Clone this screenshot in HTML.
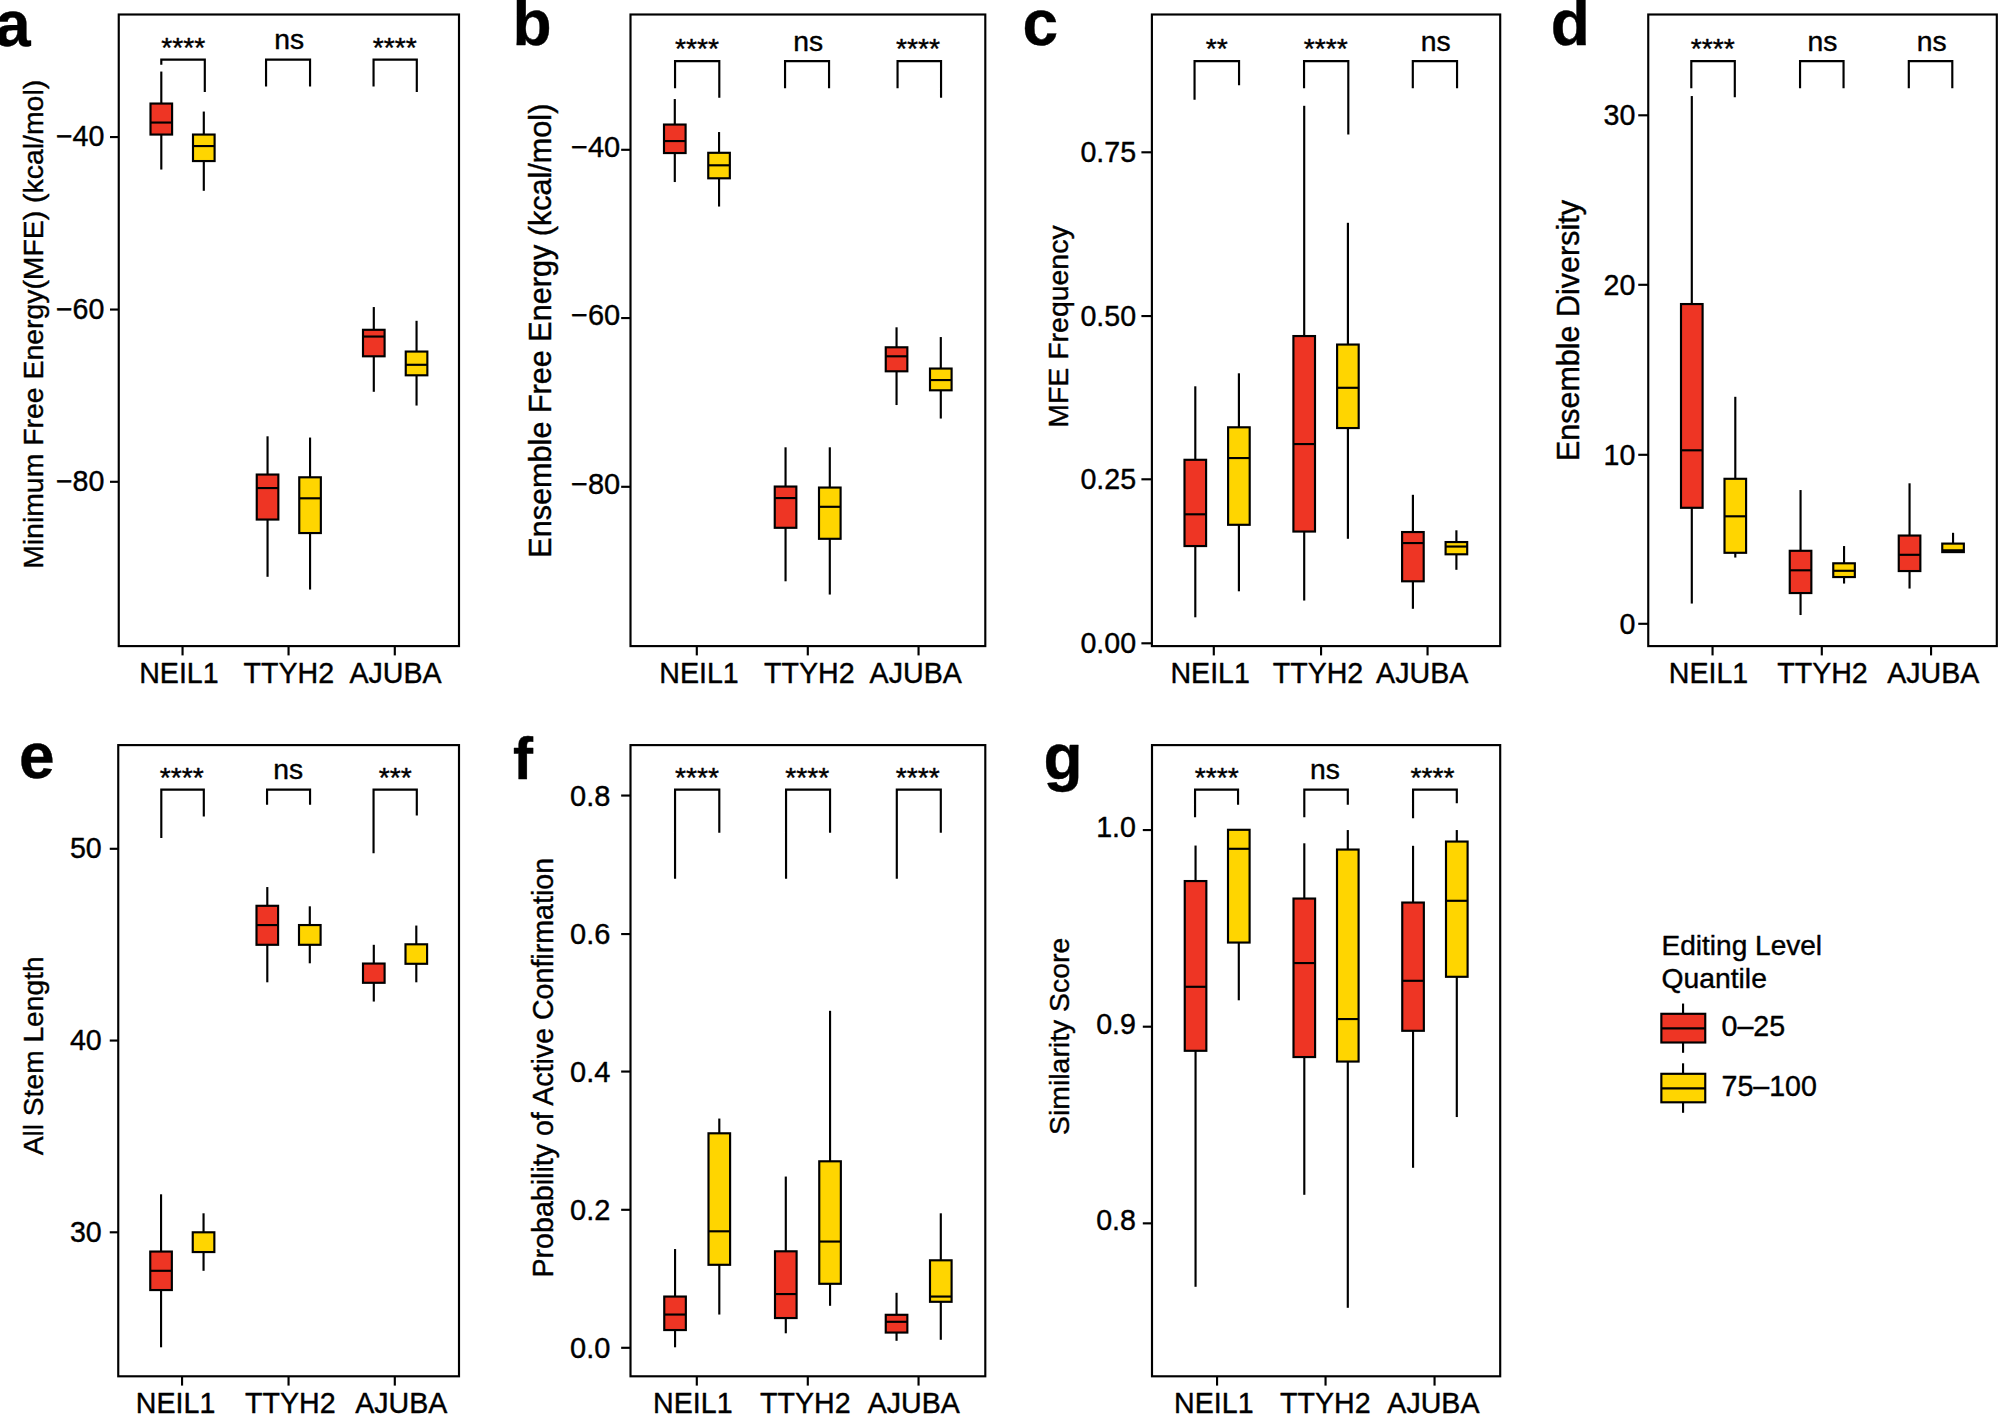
<!DOCTYPE html>
<html lang="en">
<head>
<meta charset="utf-8">
<title>RNA structure features by editing level quantile</title>
<style>
html,body{margin:0;padding:0;background:#fff;}
body{width:1998px;height:1414px;overflow:hidden;}
svg{display:block;}
svg text{font-family:"Liberation Sans", sans-serif;fill:#000;stroke:#000;stroke-width:0.4px;stroke-linejoin:round;}
</style>
</head>
<body>
<svg role="img" aria-label="Box plots of RNA structure features for NEIL1, TTYH2 and AJUBA by editing level quantile" width="1998" height="1414" viewBox="0 0 1998 1414">
<rect x="0" y="0" width="1998" height="1414" fill="#fff"/>
<g id="panel-a">
<rect x="118.75" y="14.5" width="340.25" height="631.6" fill="none" stroke="#000" stroke-width="2.15"/>
<text x="-5" y="45.5" font-size="64" font-weight="bold" stroke="none">a</text>
<text x="43" y="324.35" font-size="28.4" text-anchor="middle" transform="rotate(-90 43 324.35)">Minimum Free Energy(MFE) (kcal/mol)</text>
<line x1="110" y1="137.05" x2="118.75" y2="137.05" stroke="#000" stroke-width="2.15"/>
<text x="104.4" y="146.25" font-size="28.6" text-anchor="end">−40</text>
<line x1="110" y1="309.55" x2="118.75" y2="309.55" stroke="#000" stroke-width="2.15"/>
<text x="104.4" y="318.75" font-size="28.6" text-anchor="end">−60</text>
<line x1="110" y1="481.8" x2="118.75" y2="481.8" stroke="#000" stroke-width="2.15"/>
<text x="104.4" y="491" font-size="28.6" text-anchor="end">−80</text>
<line x1="182.55" y1="646.1" x2="182.55" y2="655.4" stroke="#000" stroke-width="2.15"/>
<line x1="288.55" y1="646.1" x2="288.55" y2="655.4" stroke="#000" stroke-width="2.15"/>
<line x1="394.8" y1="646.1" x2="394.8" y2="655.4" stroke="#000" stroke-width="2.15"/>
<text x="178.9" y="682.8" font-size="28.6" text-anchor="middle">NEIL1</text>
<text x="288.9" y="682.8" font-size="28.6" text-anchor="middle">TTYH2</text>
<text x="395.6" y="682.8" font-size="28.6" text-anchor="middle">AJUBA</text>
<line x1="161.3" y1="71.55" x2="161.3" y2="103.55" stroke="#000" stroke-width="2.15"/>
<line x1="161.3" y1="134.55" x2="161.3" y2="169.55" stroke="#000" stroke-width="2.15"/>
<rect x="150.5" y="103.55" width="21.6" height="31" fill="#ee3524" stroke="#000" stroke-width="2.15"/>
<line x1="150.5" y1="122.55" x2="172.1" y2="122.55" stroke="#000" stroke-width="2.15"/>
<line x1="203.8" y1="111.55" x2="203.8" y2="134.55" stroke="#000" stroke-width="2.15"/>
<line x1="203.8" y1="161.05" x2="203.8" y2="190.8" stroke="#000" stroke-width="2.15"/>
<rect x="193" y="134.55" width="21.6" height="26.5" fill="#ffd500" stroke="#000" stroke-width="2.15"/>
<line x1="193" y1="146.05" x2="214.6" y2="146.05" stroke="#000" stroke-width="2.15"/>
<line x1="267.55" y1="436.3" x2="267.55" y2="474.55" stroke="#000" stroke-width="2.15"/>
<line x1="267.55" y1="519.55" x2="267.55" y2="576.8" stroke="#000" stroke-width="2.15"/>
<rect x="256.75" y="474.55" width="21.6" height="45" fill="#ee3524" stroke="#000" stroke-width="2.15"/>
<line x1="256.75" y1="488.05" x2="278.35" y2="488.05" stroke="#000" stroke-width="2.15"/>
<line x1="310.05" y1="437.55" x2="310.05" y2="477.3" stroke="#000" stroke-width="2.15"/>
<line x1="310.05" y1="533.05" x2="310.05" y2="589.55" stroke="#000" stroke-width="2.15"/>
<rect x="299.25" y="477.3" width="21.6" height="55.75" fill="#ffd500" stroke="#000" stroke-width="2.15"/>
<line x1="299.25" y1="498.3" x2="320.85" y2="498.3" stroke="#000" stroke-width="2.15"/>
<line x1="373.8" y1="307.05" x2="373.8" y2="329.8" stroke="#000" stroke-width="2.15"/>
<line x1="373.8" y1="356.3" x2="373.8" y2="391.8" stroke="#000" stroke-width="2.15"/>
<rect x="363" y="329.8" width="21.6" height="26.5" fill="#ee3524" stroke="#000" stroke-width="2.15"/>
<line x1="363" y1="336.55" x2="384.6" y2="336.55" stroke="#000" stroke-width="2.15"/>
<line x1="416.55" y1="320.8" x2="416.55" y2="351.55" stroke="#000" stroke-width="2.15"/>
<line x1="416.55" y1="375.3" x2="416.55" y2="405.55" stroke="#000" stroke-width="2.15"/>
<rect x="405.75" y="351.55" width="21.6" height="23.75" fill="#ffd500" stroke="#000" stroke-width="2.15"/>
<line x1="405.75" y1="364.8" x2="427.35" y2="364.8" stroke="#000" stroke-width="2.15"/>
<polyline points="161.3,64.8 161.3,59.55 204.8,59.55 204.8,92.05" fill="none" stroke="#000" stroke-width="2.15" stroke-linejoin="miter"/>
<text x="183.25" y="56.55" font-size="28.3" text-anchor="middle">****</text>
<polyline points="266.05,86.55 266.05,59.55 310.05,59.55 310.05,86.55" fill="none" stroke="#000" stroke-width="2.15" stroke-linejoin="miter"/>
<text x="289.25" y="49.25" font-size="28.3" text-anchor="middle">ns</text>
<polyline points="373.55,86.55 373.55,59.55 416.8,59.55 416.8,92.05" fill="none" stroke="#000" stroke-width="2.15" stroke-linejoin="miter"/>
<text x="394.75" y="56.55" font-size="28.3" text-anchor="middle">****</text>
</g>
<g id="panel-b">
<rect x="630.5" y="14.5" width="354.8" height="631.6" fill="none" stroke="#000" stroke-width="2.15"/>
<text x="512.5" y="44.5" font-size="64" font-weight="bold" stroke="none">b</text>
<text x="551" y="330.65" font-size="30.6" text-anchor="middle" transform="rotate(-90 551 330.65)">Ensemble Free Energy (kcal/mol)</text>
<line x1="621.15" y1="149.8" x2="630.5" y2="149.8" stroke="#000" stroke-width="2.15"/>
<text x="620.2" y="156.5" font-size="29" text-anchor="end">−40</text>
<line x1="621.15" y1="318.05" x2="630.5" y2="318.05" stroke="#000" stroke-width="2.15"/>
<text x="620.2" y="324.75" font-size="29" text-anchor="end">−60</text>
<line x1="621.15" y1="486.8" x2="630.5" y2="486.8" stroke="#000" stroke-width="2.15"/>
<text x="620.2" y="493.5" font-size="29" text-anchor="end">−80</text>
<line x1="696.8" y1="646.1" x2="696.8" y2="655.4" stroke="#000" stroke-width="2.15"/>
<line x1="807.8" y1="646.1" x2="807.8" y2="655.4" stroke="#000" stroke-width="2.15"/>
<line x1="918.55" y1="646.1" x2="918.55" y2="655.4" stroke="#000" stroke-width="2.15"/>
<text x="699" y="682.8" font-size="28.6" text-anchor="middle">NEIL1</text>
<text x="809.4" y="682.8" font-size="28.6" text-anchor="middle">TTYH2</text>
<text x="915.7" y="682.8" font-size="28.6" text-anchor="middle">AJUBA</text>
<line x1="674.8" y1="99.05" x2="674.8" y2="124.55" stroke="#000" stroke-width="2.15"/>
<line x1="674.8" y1="153.05" x2="674.8" y2="182.05" stroke="#000" stroke-width="2.15"/>
<rect x="664" y="124.55" width="21.6" height="28.5" fill="#ee3524" stroke="#000" stroke-width="2.15"/>
<line x1="664" y1="141.05" x2="685.6" y2="141.05" stroke="#000" stroke-width="2.15"/>
<line x1="719.05" y1="132.05" x2="719.05" y2="152.8" stroke="#000" stroke-width="2.15"/>
<line x1="719.05" y1="178.3" x2="719.05" y2="206.55" stroke="#000" stroke-width="2.15"/>
<rect x="708.25" y="152.8" width="21.6" height="25.5" fill="#ffd500" stroke="#000" stroke-width="2.15"/>
<line x1="708.25" y1="165.3" x2="729.85" y2="165.3" stroke="#000" stroke-width="2.15"/>
<line x1="785.55" y1="447.3" x2="785.55" y2="486.55" stroke="#000" stroke-width="2.15"/>
<line x1="785.55" y1="527.8" x2="785.55" y2="581.3" stroke="#000" stroke-width="2.15"/>
<rect x="774.75" y="486.55" width="21.6" height="41.25" fill="#ee3524" stroke="#000" stroke-width="2.15"/>
<line x1="774.75" y1="498.05" x2="796.35" y2="498.05" stroke="#000" stroke-width="2.15"/>
<line x1="829.8" y1="447.3" x2="829.8" y2="487.55" stroke="#000" stroke-width="2.15"/>
<line x1="829.8" y1="538.8" x2="829.8" y2="594.55" stroke="#000" stroke-width="2.15"/>
<rect x="819" y="487.55" width="21.6" height="51.25" fill="#ffd500" stroke="#000" stroke-width="2.15"/>
<line x1="819" y1="506.8" x2="840.6" y2="506.8" stroke="#000" stroke-width="2.15"/>
<line x1="896.55" y1="327.3" x2="896.55" y2="347.3" stroke="#000" stroke-width="2.15"/>
<line x1="896.55" y1="371.3" x2="896.55" y2="405.05" stroke="#000" stroke-width="2.15"/>
<rect x="885.75" y="347.3" width="21.6" height="24" fill="#ee3524" stroke="#000" stroke-width="2.15"/>
<line x1="885.75" y1="356.3" x2="907.35" y2="356.3" stroke="#000" stroke-width="2.15"/>
<line x1="940.8" y1="337.05" x2="940.8" y2="368.55" stroke="#000" stroke-width="2.15"/>
<line x1="940.8" y1="390.3" x2="940.8" y2="418.55" stroke="#000" stroke-width="2.15"/>
<rect x="930" y="368.55" width="21.6" height="21.75" fill="#ffd500" stroke="#000" stroke-width="2.15"/>
<line x1="930" y1="380.05" x2="951.6" y2="380.05" stroke="#000" stroke-width="2.15"/>
<polyline points="675.05,88.3 675.05,61.05 719.3,61.05 719.3,97.8" fill="none" stroke="#000" stroke-width="2.15" stroke-linejoin="miter"/>
<text x="697" y="58.05" font-size="28.3" text-anchor="middle">****</text>
<polyline points="785.05,88.3 785.05,61.05 829.05,61.05 829.05,88.3" fill="none" stroke="#000" stroke-width="2.15" stroke-linejoin="miter"/>
<text x="808.25" y="50.75" font-size="28.3" text-anchor="middle">ns</text>
<polyline points="897.55,88.3 897.55,61.05 941.05,61.05 941.05,97.8" fill="none" stroke="#000" stroke-width="2.15" stroke-linejoin="miter"/>
<text x="918" y="58.05" font-size="28.3" text-anchor="middle">****</text>
</g>
<g id="panel-c">
<rect x="1151.9" y="14.5" width="348.3" height="631.6" fill="none" stroke="#000" stroke-width="2.15"/>
<text x="1022.5" y="44.5" font-size="64" font-weight="bold" stroke="none">c</text>
<text x="1068.4" y="326.55" font-size="28.46" text-anchor="middle" transform="rotate(-90 1068.4 326.55)">MFE Frequency</text>
<line x1="1141.4" y1="152.3" x2="1151.9" y2="152.3" stroke="#000" stroke-width="2.15"/>
<text x="1136.1" y="162" font-size="28.6" text-anchor="end">0.75</text>
<line x1="1141.4" y1="316.05" x2="1151.9" y2="316.05" stroke="#000" stroke-width="2.15"/>
<text x="1136.1" y="325.75" font-size="28.6" text-anchor="end">0.50</text>
<line x1="1141.4" y1="479.3" x2="1151.9" y2="479.3" stroke="#000" stroke-width="2.15"/>
<text x="1136.1" y="489" font-size="28.6" text-anchor="end">0.25</text>
<line x1="1141.4" y1="643.3" x2="1151.9" y2="643.3" stroke="#000" stroke-width="2.15"/>
<text x="1136.1" y="653" font-size="28.6" text-anchor="end">0.00</text>
<line x1="1213.8" y1="646.1" x2="1213.8" y2="655.4" stroke="#000" stroke-width="2.15"/>
<line x1="1321.05" y1="646.1" x2="1321.05" y2="655.4" stroke="#000" stroke-width="2.15"/>
<line x1="1427.55" y1="646.1" x2="1427.55" y2="655.4" stroke="#000" stroke-width="2.15"/>
<text x="1210.2" y="682.8" font-size="28.6" text-anchor="middle">NEIL1</text>
<text x="1318" y="682.8" font-size="28.6" text-anchor="middle">TTYH2</text>
<text x="1422.2" y="682.8" font-size="28.6" text-anchor="middle">AJUBA</text>
<line x1="1195.3" y1="386.3" x2="1195.3" y2="459.8" stroke="#000" stroke-width="2.15"/>
<line x1="1195.3" y1="546.05" x2="1195.3" y2="617.3" stroke="#000" stroke-width="2.15"/>
<rect x="1184.5" y="459.8" width="21.6" height="86.25" fill="#ee3524" stroke="#000" stroke-width="2.15"/>
<line x1="1184.5" y1="514.3" x2="1206.1" y2="514.3" stroke="#000" stroke-width="2.15"/>
<line x1="1238.9" y1="373.3" x2="1238.9" y2="427.3" stroke="#000" stroke-width="2.15"/>
<line x1="1238.9" y1="524.8" x2="1238.9" y2="591.3" stroke="#000" stroke-width="2.15"/>
<rect x="1228.1" y="427.3" width="21.6" height="97.5" fill="#ffd500" stroke="#000" stroke-width="2.15"/>
<line x1="1228.1" y1="458.05" x2="1249.7" y2="458.05" stroke="#000" stroke-width="2.15"/>
<line x1="1304.2" y1="105.8" x2="1304.2" y2="336.05" stroke="#000" stroke-width="2.15"/>
<line x1="1304.2" y1="531.55" x2="1304.2" y2="600.55" stroke="#000" stroke-width="2.15"/>
<rect x="1293.4" y="336.05" width="21.6" height="195.5" fill="#ee3524" stroke="#000" stroke-width="2.15"/>
<line x1="1293.4" y1="444.05" x2="1315" y2="444.05" stroke="#000" stroke-width="2.15"/>
<line x1="1347.9" y1="222.8" x2="1347.9" y2="344.55" stroke="#000" stroke-width="2.15"/>
<line x1="1347.9" y1="428.05" x2="1347.9" y2="538.8" stroke="#000" stroke-width="2.15"/>
<rect x="1337.1" y="344.55" width="21.6" height="83.5" fill="#ffd500" stroke="#000" stroke-width="2.15"/>
<line x1="1337.1" y1="387.8" x2="1358.7" y2="387.8" stroke="#000" stroke-width="2.15"/>
<line x1="1412.9" y1="494.8" x2="1412.9" y2="532.05" stroke="#000" stroke-width="2.15"/>
<line x1="1412.9" y1="581.3" x2="1412.9" y2="608.8" stroke="#000" stroke-width="2.15"/>
<rect x="1402.1" y="532.05" width="21.6" height="49.25" fill="#ee3524" stroke="#000" stroke-width="2.15"/>
<line x1="1402.1" y1="543.05" x2="1423.7" y2="543.05" stroke="#000" stroke-width="2.15"/>
<line x1="1456.4" y1="530.3" x2="1456.4" y2="542.05" stroke="#000" stroke-width="2.15"/>
<line x1="1456.4" y1="554.3" x2="1456.4" y2="569.8" stroke="#000" stroke-width="2.15"/>
<rect x="1445.6" y="542.05" width="21.6" height="12.25" fill="#ffd500" stroke="#000" stroke-width="2.15"/>
<line x1="1445.6" y1="546.55" x2="1467.2" y2="546.55" stroke="#000" stroke-width="2.15"/>
<polyline points="1194.55,99.8 1194.55,61.05 1239.05,61.05 1239.05,85.3" fill="none" stroke="#000" stroke-width="2.15" stroke-linejoin="miter"/>
<text x="1216.75" y="58.05" font-size="28.3" text-anchor="middle">**</text>
<polyline points="1304.05,88.3 1304.05,61.05 1348.3,61.05 1348.3,134.55" fill="none" stroke="#000" stroke-width="2.15" stroke-linejoin="miter"/>
<text x="1325.75" y="58.05" font-size="28.3" text-anchor="middle">****</text>
<polyline points="1412.8,88.3 1412.8,61.05 1457.05,61.05 1457.05,88.3" fill="none" stroke="#000" stroke-width="2.15" stroke-linejoin="miter"/>
<text x="1435.75" y="50.75" font-size="28.3" text-anchor="middle">ns</text>
</g>
<g id="panel-d">
<rect x="1648.25" y="14.5" width="348.55" height="631.6" fill="none" stroke="#000" stroke-width="2.15"/>
<text x="1550.75" y="44.5" font-size="64" font-weight="bold" stroke="none">d</text>
<text x="1579.25" y="330.6" font-size="30.5" text-anchor="middle" transform="rotate(-90 1579.25 330.6)">Ensemble Diversity</text>
<line x1="1638.25" y1="115.3" x2="1648.25" y2="115.3" stroke="#000" stroke-width="2.15"/>
<text x="1635.3" y="125.2" font-size="28.6" text-anchor="end">30</text>
<line x1="1638.25" y1="284.8" x2="1648.25" y2="284.8" stroke="#000" stroke-width="2.15"/>
<text x="1635.3" y="294.7" font-size="28.6" text-anchor="end">20</text>
<line x1="1638.25" y1="454.8" x2="1648.25" y2="454.8" stroke="#000" stroke-width="2.15"/>
<text x="1635.3" y="464.7" font-size="28.6" text-anchor="end">10</text>
<line x1="1638.25" y1="623.8" x2="1648.25" y2="623.8" stroke="#000" stroke-width="2.15"/>
<text x="1635.3" y="633.7" font-size="28.6" text-anchor="end">0</text>
<line x1="1712.55" y1="646.1" x2="1712.55" y2="655.4" stroke="#000" stroke-width="2.15"/>
<line x1="1821.8" y1="646.1" x2="1821.8" y2="655.4" stroke="#000" stroke-width="2.15"/>
<line x1="1931.05" y1="646.1" x2="1931.05" y2="655.4" stroke="#000" stroke-width="2.15"/>
<text x="1708.5" y="682.8" font-size="28.6" text-anchor="middle">NEIL1</text>
<text x="1822.5" y="682.8" font-size="28.6" text-anchor="middle">TTYH2</text>
<text x="1933.3" y="682.8" font-size="28.6" text-anchor="middle">AJUBA</text>
<line x1="1691.8" y1="96.05" x2="1691.8" y2="304.05" stroke="#000" stroke-width="2.15"/>
<line x1="1691.8" y1="507.8" x2="1691.8" y2="603.55" stroke="#000" stroke-width="2.15"/>
<rect x="1681" y="304.05" width="21.6" height="203.75" fill="#ee3524" stroke="#000" stroke-width="2.15"/>
<line x1="1681" y1="450.3" x2="1702.6" y2="450.3" stroke="#000" stroke-width="2.15"/>
<line x1="1735.3" y1="396.8" x2="1735.3" y2="478.8" stroke="#000" stroke-width="2.15"/>
<line x1="1735.3" y1="552.8" x2="1735.3" y2="557.55" stroke="#000" stroke-width="2.15"/>
<rect x="1724.5" y="478.8" width="21.6" height="74" fill="#ffd500" stroke="#000" stroke-width="2.15"/>
<line x1="1724.5" y1="516.3" x2="1746.1" y2="516.3" stroke="#000" stroke-width="2.15"/>
<line x1="1800.55" y1="490.05" x2="1800.55" y2="550.8" stroke="#000" stroke-width="2.15"/>
<line x1="1800.55" y1="593.05" x2="1800.55" y2="615.05" stroke="#000" stroke-width="2.15"/>
<rect x="1789.75" y="550.8" width="21.6" height="42.25" fill="#ee3524" stroke="#000" stroke-width="2.15"/>
<line x1="1789.75" y1="570.3" x2="1811.35" y2="570.3" stroke="#000" stroke-width="2.15"/>
<line x1="1844.05" y1="546.05" x2="1844.05" y2="563.3" stroke="#000" stroke-width="2.15"/>
<line x1="1844.05" y1="577.05" x2="1844.05" y2="583.55" stroke="#000" stroke-width="2.15"/>
<rect x="1833.25" y="563.3" width="21.6" height="13.75" fill="#ffd500" stroke="#000" stroke-width="2.15"/>
<line x1="1833.25" y1="570.8" x2="1854.85" y2="570.8" stroke="#000" stroke-width="2.15"/>
<line x1="1909.55" y1="483.3" x2="1909.55" y2="535.55" stroke="#000" stroke-width="2.15"/>
<line x1="1909.55" y1="571.05" x2="1909.55" y2="588.55" stroke="#000" stroke-width="2.15"/>
<rect x="1898.75" y="535.55" width="21.6" height="35.5" fill="#ee3524" stroke="#000" stroke-width="2.15"/>
<line x1="1898.75" y1="554.8" x2="1920.35" y2="554.8" stroke="#000" stroke-width="2.15"/>
<line x1="1953.05" y1="532.8" x2="1953.05" y2="543.6" stroke="#000" stroke-width="2.15"/>
<rect x="1942.25" y="543.6" width="21.6" height="8.5" fill="#ffd500" stroke="#000" stroke-width="2.15"/>
<line x1="1942.25" y1="550.3" x2="1963.85" y2="550.3" stroke="#000" stroke-width="2.15"/>
<polyline points="1691.3,88.3 1691.3,61.05 1734.8,61.05 1734.8,97.3" fill="none" stroke="#000" stroke-width="2.15" stroke-linejoin="miter"/>
<text x="1712.75" y="58.05" font-size="28.3" text-anchor="middle">****</text>
<polyline points="1800.05,88.3 1800.05,61.05 1843.55,61.05 1843.55,88.3" fill="none" stroke="#000" stroke-width="2.15" stroke-linejoin="miter"/>
<text x="1822.5" y="50.75" font-size="28.3" text-anchor="middle">ns</text>
<polyline points="1908.8,88.3 1908.8,61.05 1952.3,61.05 1952.3,88.3" fill="none" stroke="#000" stroke-width="2.15" stroke-linejoin="miter"/>
<text x="1931.75" y="50.75" font-size="28.3" text-anchor="middle">ns</text>
</g>
<g id="panel-e">
<rect x="118.25" y="745.1" width="340.75" height="631.2" fill="none" stroke="#000" stroke-width="2.15"/>
<text x="19.1" y="778" font-size="64" font-weight="bold" stroke="none">e</text>
<text x="43.3" y="1055.85" font-size="28.2" text-anchor="middle" transform="rotate(-90 43.3 1055.85)">All Stem Length</text>
<line x1="109.75" y1="848.8" x2="118.25" y2="848.8" stroke="#000" stroke-width="2.15"/>
<text x="101.7" y="858.1" font-size="28.6" text-anchor="end">50</text>
<line x1="109.75" y1="1040.55" x2="118.25" y2="1040.55" stroke="#000" stroke-width="2.15"/>
<text x="101.7" y="1049.85" font-size="28.6" text-anchor="end">40</text>
<line x1="109.75" y1="1232.3" x2="118.25" y2="1232.3" stroke="#000" stroke-width="2.15"/>
<text x="101.7" y="1241.6" font-size="28.6" text-anchor="end">30</text>
<line x1="182.05" y1="1376.3" x2="182.05" y2="1385.6" stroke="#000" stroke-width="2.15"/>
<line x1="288.55" y1="1376.3" x2="288.55" y2="1385.6" stroke="#000" stroke-width="2.15"/>
<line x1="394.8" y1="1376.3" x2="394.8" y2="1385.6" stroke="#000" stroke-width="2.15"/>
<text x="175.6" y="1413" font-size="28.6" text-anchor="middle">NEIL1</text>
<text x="290.3" y="1413" font-size="28.6" text-anchor="middle">TTYH2</text>
<text x="401.3" y="1413" font-size="28.6" text-anchor="middle">AJUBA</text>
<line x1="161.05" y1="1194.3" x2="161.05" y2="1251.55" stroke="#000" stroke-width="2.15"/>
<line x1="161.05" y1="1290.05" x2="161.05" y2="1347.3" stroke="#000" stroke-width="2.15"/>
<rect x="150.25" y="1251.55" width="21.6" height="38.5" fill="#ee3524" stroke="#000" stroke-width="2.15"/>
<line x1="150.25" y1="1270.8" x2="171.85" y2="1270.8" stroke="#000" stroke-width="2.15"/>
<line x1="203.55" y1="1213.3" x2="203.55" y2="1232.3" stroke="#000" stroke-width="2.15"/>
<line x1="203.55" y1="1252.05" x2="203.55" y2="1270.8" stroke="#000" stroke-width="2.15"/>
<rect x="192.75" y="1232.3" width="21.6" height="19.75" fill="#ffd500" stroke="#000" stroke-width="2.15"/>
<line x1="267.3" y1="887.05" x2="267.3" y2="905.8" stroke="#000" stroke-width="2.15"/>
<line x1="267.3" y1="944.8" x2="267.3" y2="982.3" stroke="#000" stroke-width="2.15"/>
<rect x="256.5" y="905.8" width="21.6" height="39" fill="#ee3524" stroke="#000" stroke-width="2.15"/>
<line x1="256.5" y1="925.05" x2="278.1" y2="925.05" stroke="#000" stroke-width="2.15"/>
<line x1="309.8" y1="906.3" x2="309.8" y2="925.05" stroke="#000" stroke-width="2.15"/>
<line x1="309.8" y1="944.8" x2="309.8" y2="963.3" stroke="#000" stroke-width="2.15"/>
<rect x="299" y="925.05" width="21.6" height="19.75" fill="#ffd500" stroke="#000" stroke-width="2.15"/>
<line x1="373.8" y1="944.8" x2="373.8" y2="963.55" stroke="#000" stroke-width="2.15"/>
<line x1="373.8" y1="982.8" x2="373.8" y2="1001.55" stroke="#000" stroke-width="2.15"/>
<rect x="363" y="963.55" width="21.6" height="19.25" fill="#ee3524" stroke="#000" stroke-width="2.15"/>
<line x1="416.3" y1="925.55" x2="416.3" y2="944.3" stroke="#000" stroke-width="2.15"/>
<line x1="416.3" y1="963.8" x2="416.3" y2="982.3" stroke="#000" stroke-width="2.15"/>
<rect x="405.5" y="944.3" width="21.6" height="19.5" fill="#ffd500" stroke="#000" stroke-width="2.15"/>
<polyline points="161.3,838.05 161.3,789.55 203.8,789.55 203.8,816.55" fill="none" stroke="#000" stroke-width="2.15" stroke-linejoin="miter"/>
<text x="181.75" y="786.55" font-size="28.3" text-anchor="middle">****</text>
<polyline points="267.05,804.8 267.05,789.55 310.05,789.55 310.05,804.8" fill="none" stroke="#000" stroke-width="2.15" stroke-linejoin="miter"/>
<text x="288.25" y="779.25" font-size="28.3" text-anchor="middle">ns</text>
<polyline points="373.55,853.3 373.55,789.55 416.8,789.55 416.8,815.55" fill="none" stroke="#000" stroke-width="2.15" stroke-linejoin="miter"/>
<text x="395.25" y="786.55" font-size="28.3" text-anchor="middle">***</text>
</g>
<g id="panel-f">
<rect x="630.5" y="745.1" width="354.8" height="631.2" fill="none" stroke="#000" stroke-width="2.15"/>
<text x="513" y="779.25" font-size="60" font-weight="bold" stroke="none">f</text>
<text x="553" y="1067.7" font-size="28.6" text-anchor="middle" transform="rotate(-90 553 1067.7)">Probability of Active Confirmation</text>
<line x1="621.15" y1="795.55" x2="630.5" y2="795.55" stroke="#000" stroke-width="2.15"/>
<text x="610.4" y="805.85" font-size="29" text-anchor="end">0.8</text>
<line x1="621.15" y1="934.05" x2="630.5" y2="934.05" stroke="#000" stroke-width="2.15"/>
<text x="610.4" y="944.35" font-size="29" text-anchor="end">0.6</text>
<line x1="621.15" y1="1071.55" x2="630.5" y2="1071.55" stroke="#000" stroke-width="2.15"/>
<text x="610.4" y="1081.85" font-size="29" text-anchor="end">0.4</text>
<line x1="621.15" y1="1209.8" x2="630.5" y2="1209.8" stroke="#000" stroke-width="2.15"/>
<text x="610.4" y="1220.1" font-size="29" text-anchor="end">0.2</text>
<line x1="621.15" y1="1347.8" x2="630.5" y2="1347.8" stroke="#000" stroke-width="2.15"/>
<text x="610.4" y="1358.1" font-size="29" text-anchor="end">0.0</text>
<line x1="696.8" y1="1376.3" x2="696.8" y2="1385.6" stroke="#000" stroke-width="2.15"/>
<line x1="807.8" y1="1376.3" x2="807.8" y2="1385.6" stroke="#000" stroke-width="2.15"/>
<line x1="918.55" y1="1376.3" x2="918.55" y2="1385.6" stroke="#000" stroke-width="2.15"/>
<text x="692.85" y="1413" font-size="28.6" text-anchor="middle">NEIL1</text>
<text x="805.35" y="1413" font-size="28.6" text-anchor="middle">TTYH2</text>
<text x="913.85" y="1413" font-size="28.6" text-anchor="middle">AJUBA</text>
<line x1="675.05" y1="1249.05" x2="675.05" y2="1296.55" stroke="#000" stroke-width="2.15"/>
<line x1="675.05" y1="1330.05" x2="675.05" y2="1347.3" stroke="#000" stroke-width="2.15"/>
<rect x="664.25" y="1296.55" width="21.6" height="33.5" fill="#ee3524" stroke="#000" stroke-width="2.15"/>
<line x1="664.25" y1="1314.55" x2="685.85" y2="1314.55" stroke="#000" stroke-width="2.15"/>
<line x1="719.3" y1="1118.55" x2="719.3" y2="1133.3" stroke="#000" stroke-width="2.15"/>
<line x1="719.3" y1="1264.8" x2="719.3" y2="1314.55" stroke="#000" stroke-width="2.15"/>
<rect x="708.5" y="1133.3" width="21.6" height="131.5" fill="#ffd500" stroke="#000" stroke-width="2.15"/>
<line x1="708.5" y1="1231.3" x2="730.1" y2="1231.3" stroke="#000" stroke-width="2.15"/>
<line x1="785.8" y1="1176.55" x2="785.8" y2="1251.3" stroke="#000" stroke-width="2.15"/>
<line x1="785.8" y1="1318.05" x2="785.8" y2="1333.3" stroke="#000" stroke-width="2.15"/>
<rect x="775" y="1251.3" width="21.6" height="66.75" fill="#ee3524" stroke="#000" stroke-width="2.15"/>
<line x1="775" y1="1294.05" x2="796.6" y2="1294.05" stroke="#000" stroke-width="2.15"/>
<line x1="830.05" y1="1010.8" x2="830.05" y2="1161.3" stroke="#000" stroke-width="2.15"/>
<line x1="830.05" y1="1283.8" x2="830.05" y2="1305.8" stroke="#000" stroke-width="2.15"/>
<rect x="819.25" y="1161.3" width="21.6" height="122.5" fill="#ffd500" stroke="#000" stroke-width="2.15"/>
<line x1="819.25" y1="1241.55" x2="840.85" y2="1241.55" stroke="#000" stroke-width="2.15"/>
<line x1="896.55" y1="1292.8" x2="896.55" y2="1314.8" stroke="#000" stroke-width="2.15"/>
<line x1="896.55" y1="1332.55" x2="896.55" y2="1340.8" stroke="#000" stroke-width="2.15"/>
<rect x="885.75" y="1314.8" width="21.6" height="17.75" fill="#ee3524" stroke="#000" stroke-width="2.15"/>
<line x1="885.75" y1="1321.8" x2="907.35" y2="1321.8" stroke="#000" stroke-width="2.15"/>
<line x1="940.8" y1="1213.3" x2="940.8" y2="1260.3" stroke="#000" stroke-width="2.15"/>
<line x1="940.8" y1="1301.8" x2="940.8" y2="1339.8" stroke="#000" stroke-width="2.15"/>
<rect x="930" y="1260.3" width="21.6" height="41.5" fill="#ffd500" stroke="#000" stroke-width="2.15"/>
<line x1="930" y1="1296.55" x2="951.6" y2="1296.55" stroke="#000" stroke-width="2.15"/>
<polyline points="675.05,878.8 675.05,789.55 719.3,789.55 719.3,832.8" fill="none" stroke="#000" stroke-width="2.15" stroke-linejoin="miter"/>
<text x="697" y="786.55" font-size="28.3" text-anchor="middle">****</text>
<polyline points="786.05,878.8 786.05,789.55 830.05,789.55 830.05,832.8" fill="none" stroke="#000" stroke-width="2.15" stroke-linejoin="miter"/>
<text x="807.25" y="786.55" font-size="28.3" text-anchor="middle">****</text>
<polyline points="896.8,878.8 896.8,789.55 940.8,789.55 940.8,832.8" fill="none" stroke="#000" stroke-width="2.15" stroke-linejoin="miter"/>
<text x="917.75" y="786.55" font-size="28.3" text-anchor="middle">****</text>
</g>
<g id="panel-g">
<rect x="1152" y="745.1" width="348.2" height="631.2" fill="none" stroke="#000" stroke-width="2.15"/>
<text x="1043.5" y="779.25" font-size="64" font-weight="bold" stroke="none">g</text>
<text x="1069" y="1036.3" font-size="28.4" text-anchor="middle" transform="rotate(-90 1069 1036.3)">Similarity Score</text>
<line x1="1142.8" y1="830.05" x2="1152" y2="830.05" stroke="#000" stroke-width="2.15"/>
<text x="1135.95" y="837.15" font-size="28.6" text-anchor="end">1.0</text>
<line x1="1142.8" y1="1026.7" x2="1152" y2="1026.7" stroke="#000" stroke-width="2.15"/>
<text x="1135.95" y="1033.8" font-size="28.6" text-anchor="end">0.9</text>
<line x1="1142.8" y1="1223.35" x2="1152" y2="1223.35" stroke="#000" stroke-width="2.15"/>
<text x="1135.95" y="1230.45" font-size="28.6" text-anchor="end">0.8</text>
<line x1="1217.05" y1="1376.3" x2="1217.05" y2="1385.6" stroke="#000" stroke-width="2.15"/>
<line x1="1325.55" y1="1376.3" x2="1325.55" y2="1385.6" stroke="#000" stroke-width="2.15"/>
<line x1="1434.55" y1="1376.3" x2="1434.55" y2="1385.6" stroke="#000" stroke-width="2.15"/>
<text x="1213.85" y="1413" font-size="28.6" text-anchor="middle">NEIL1</text>
<text x="1325.35" y="1413" font-size="28.6" text-anchor="middle">TTYH2</text>
<text x="1433.4" y="1413" font-size="28.6" text-anchor="middle">AJUBA</text>
<line x1="1195.55" y1="845.55" x2="1195.55" y2="881.05" stroke="#000" stroke-width="2.15"/>
<line x1="1195.55" y1="1050.8" x2="1195.55" y2="1286.8" stroke="#000" stroke-width="2.15"/>
<rect x="1184.75" y="881.05" width="21.6" height="169.75" fill="#ee3524" stroke="#000" stroke-width="2.15"/>
<line x1="1184.75" y1="986.8" x2="1206.35" y2="986.8" stroke="#000" stroke-width="2.15"/>
<line x1="1238.8" y1="942.55" x2="1238.8" y2="1000.3" stroke="#000" stroke-width="2.15"/>
<rect x="1228" y="829.8" width="21.6" height="112.75" fill="#ffd500" stroke="#000" stroke-width="2.15"/>
<line x1="1228" y1="848.8" x2="1249.6" y2="848.8" stroke="#000" stroke-width="2.15"/>
<line x1="1304.3" y1="843.3" x2="1304.3" y2="898.55" stroke="#000" stroke-width="2.15"/>
<line x1="1304.3" y1="1057.05" x2="1304.3" y2="1194.8" stroke="#000" stroke-width="2.15"/>
<rect x="1293.5" y="898.55" width="21.6" height="158.5" fill="#ee3524" stroke="#000" stroke-width="2.15"/>
<line x1="1293.5" y1="963.05" x2="1315.1" y2="963.05" stroke="#000" stroke-width="2.15"/>
<line x1="1347.8" y1="830.05" x2="1347.8" y2="849.55" stroke="#000" stroke-width="2.15"/>
<line x1="1347.8" y1="1061.55" x2="1347.8" y2="1307.8" stroke="#000" stroke-width="2.15"/>
<rect x="1337" y="849.55" width="21.6" height="212" fill="#ffd500" stroke="#000" stroke-width="2.15"/>
<line x1="1337" y1="1019.05" x2="1358.6" y2="1019.05" stroke="#000" stroke-width="2.15"/>
<line x1="1413.05" y1="845.8" x2="1413.05" y2="902.55" stroke="#000" stroke-width="2.15"/>
<line x1="1413.05" y1="1030.8" x2="1413.05" y2="1167.8" stroke="#000" stroke-width="2.15"/>
<rect x="1402.25" y="902.55" width="21.6" height="128.25" fill="#ee3524" stroke="#000" stroke-width="2.15"/>
<line x1="1402.25" y1="980.8" x2="1423.85" y2="980.8" stroke="#000" stroke-width="2.15"/>
<line x1="1456.8" y1="830.05" x2="1456.8" y2="841.55" stroke="#000" stroke-width="2.15"/>
<line x1="1456.8" y1="976.8" x2="1456.8" y2="1117.05" stroke="#000" stroke-width="2.15"/>
<rect x="1446" y="841.55" width="21.6" height="135.25" fill="#ffd500" stroke="#000" stroke-width="2.15"/>
<line x1="1446" y1="900.8" x2="1467.6" y2="900.8" stroke="#000" stroke-width="2.15"/>
<polyline points="1195.05,817.3 1195.05,789.55 1238.05,789.55 1238.05,804.8" fill="none" stroke="#000" stroke-width="2.15" stroke-linejoin="miter"/>
<text x="1216.75" y="786.55" font-size="28.3" text-anchor="middle">****</text>
<polyline points="1304.3,817.3 1304.3,789.55 1347.8,789.55 1347.8,804.8" fill="none" stroke="#000" stroke-width="2.15" stroke-linejoin="miter"/>
<text x="1325" y="779.25" font-size="28.3" text-anchor="middle">ns</text>
<polyline points="1413.05,818.3 1413.05,789.55 1456.8,789.55 1456.8,803.3" fill="none" stroke="#000" stroke-width="2.15" stroke-linejoin="miter"/>
<text x="1432.5" y="786.55" font-size="28.3" text-anchor="middle">****</text>
</g>
<g id="legend">
<text x="1661.5" y="954.5" font-size="28.05">Editing Level</text>
<text x="1661.5" y="988" font-size="28.3">Quantile</text>
<line x1="1683.05" y1="1003.55" x2="1683.05" y2="1013.8" stroke="#000" stroke-width="2.15"/>
<line x1="1683.05" y1="1042.5" x2="1683.05" y2="1052.8" stroke="#000" stroke-width="2.15"/>
<rect x="1661.35" y="1013.8" width="43.9" height="28.7" fill="#ee3524" stroke="#000" stroke-width="2.15"/>
<line x1="1661.35" y1="1028.3" x2="1705.25" y2="1028.3" stroke="#000" stroke-width="2.15"/>
<text x="1721.5" y="1036.25" font-size="28.6">0–25</text>
<line x1="1683.05" y1="1063.3" x2="1683.05" y2="1073.8" stroke="#000" stroke-width="2.15"/>
<line x1="1683.05" y1="1102.3" x2="1683.05" y2="1112.8" stroke="#000" stroke-width="2.15"/>
<rect x="1661.35" y="1073.8" width="43.9" height="28.5" fill="#ffd500" stroke="#000" stroke-width="2.15"/>
<line x1="1661.35" y1="1088.3" x2="1705.25" y2="1088.3" stroke="#000" stroke-width="2.15"/>
<text x="1721.5" y="1095.5" font-size="28.6">75–100</text>
</g>
</svg>
</body>
</html>
